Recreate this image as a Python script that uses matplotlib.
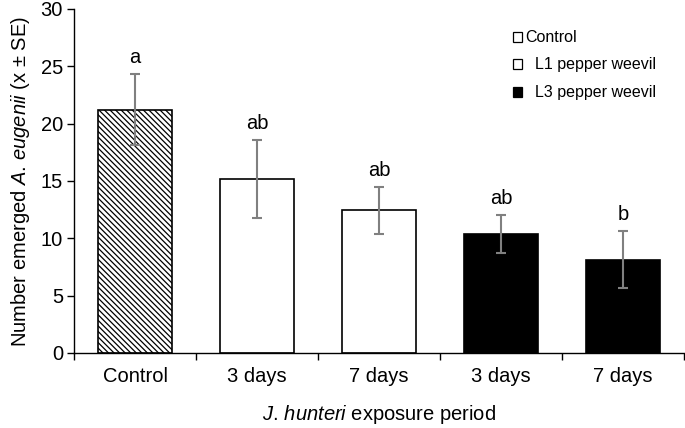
import matplotlib
matplotlib.use("Agg")
import matplotlib.pyplot as plt
from matplotlib.patches import Rectangle
import numpy as np

categories = ["Control", "3 days", "7 days", "3 days", "7 days"]
means = [21.2, 15.2, 12.45, 10.35, 8.15]
se = [3.1, 3.4, 2.07, 1.65, 2.5]
letters = ["a", "ab", "ab", "ab", "b"]
groups = ["Control", "L1 pepper weevil", "L1 pepper weevil", "L3 pepper weevil", "L3 pepper weevil"]
legend_labels = ["Control", "L1 pepper weevil", "L3 pepper weevil"]
yticks = [0, 5, 10, 15, 20, 25, 30]

plt.rcParams['font.family'] = ['Liberation Sans', 'DejaVu Sans']
plt.rcParams['mathtext.fontset'] = 'custom'
plt.rcParams['mathtext.rm'] = 'Liberation Sans'
plt.rcParams['mathtext.it'] = 'Liberation Sans:italic'
plt.rcParams['hatch.linewidth'] = 0.9

fig = plt.figure(figsize=(6.85, 4.28), dpi=100)
ax = fig.add_axes([74/685, 1-353/428, 610/685, 344/428])

style = {
    "Control": dict(facecolor="white", hatch="\\" * 6),
    "L1 pepper weevil": dict(facecolor="white", hatch=None),
    "L3 pepper weevil": dict(facecolor="black", hatch=None),
}

x = np.arange(len(categories))
for xi, m, g in zip(x, means, groups):
    ax.bar(xi, m, width=0.6, edgecolor="black", linewidth=1.2, **style[g])

ax.errorbar(x, means, yerr=se, fmt="none", ecolor="#808080", elinewidth=1.5,
            capsize=3.5, capthick=1.5)

for xi, m, s, l in zip(x, means, se, letters):
    ax.annotate(l, (xi, m + s), xytext=(0, 5), textcoords="offset points",
                ha="center", va="bottom", fontsize=14.5)

ax.set_xlim(-0.5, len(categories) - 0.5)
ax.set_ylim(0, 30)
ax.set_yticks(yticks)
ax.set_xticks(x)
ax.set_xticklabels(categories)
ax.set_xticks(np.arange(-0.5, len(categories), 1.0), minor=True)
ax.tick_params(axis="x", which="major", length=0, pad=10, labelsize=14.5)
ax.tick_params(axis="x", which="minor", length=5, width=1, direction="out")
ax.tick_params(axis="y", length=5, width=1, direction="out", labelsize=14.5, pad=3)

for sp in ["top", "right"]:
    ax.spines[sp].set_visible(False)
for sp in ["left", "bottom"]:
    ax.spines[sp].set_linewidth(1.0)

ax.set_xlabel(r"$\mathit{J.}\,\mathit{hunteri}$ exposure period", fontsize=14.5, labelpad=12)
ax.set_ylabel(r"Number emerged $\mathit{A.}\,\mathit{eugenii}$ (x ± SE)", fontsize=14.5, labelpad=6)

# legend drawn manually in figure pixels
leg_rows = [(37, 513, 525), (64, 513, 535), (92, 513, 535)]
for (yc, xs, xt), lab in zip(leg_rows, legend_labels):
    fc = "black" if lab.startswith("L3") else "white"
    sq = Rectangle(((xs) / 685, 1 - (yc + 4.5) / 428), 9 / 685, 9 / 428,
                   transform=fig.transFigure, facecolor=fc, edgecolor="black",
                   linewidth=0.9)
    fig.patches.append(sq)
    fig.text(xt / 685, 1 - yc / 428, lab, fontsize=11.5, va="center", ha="left")

fig.savefig("out.png", dpi=100)
